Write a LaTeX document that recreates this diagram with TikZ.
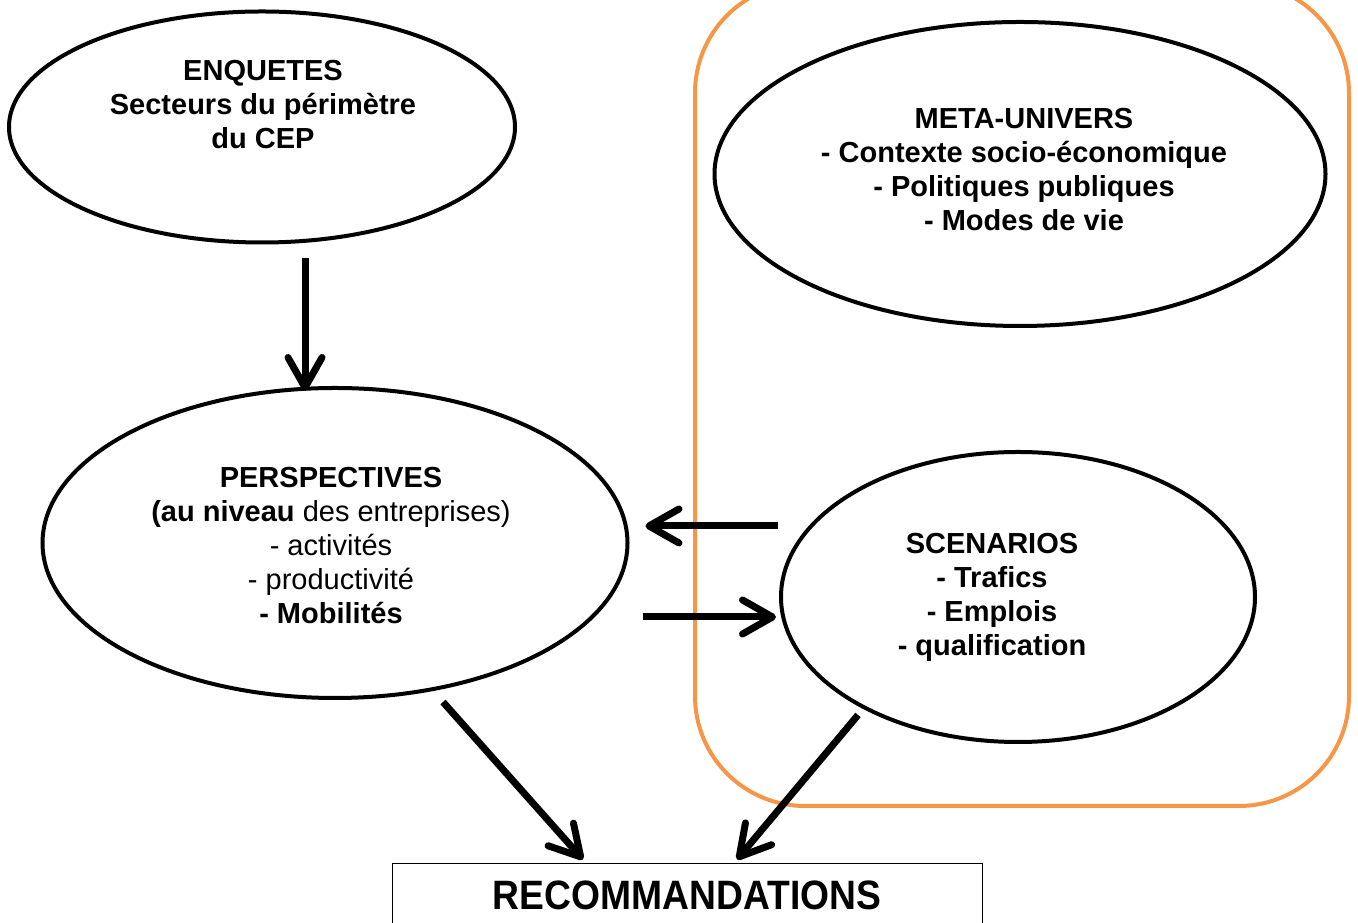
\documentclass[tikz,border=0pt]{standalone}
\usepackage{fontspec}
\setmainfont{Liberation Sans}
\usetikzlibrary{arrows.meta,calc,shapes.geometric}
\definecolor{accentorange}{RGB}{247,150,70}
\begin{document}
\begin{tikzpicture}[x=1pt,y=1pt,
  oval/.style={draw=black, line width=4pt, ellipse, inner sep=0pt},
  txt/.style={align=center, inner sep=0pt, font=\fontsize{29}{34}\selectfont},
  arr/.style={line width=7pt, -{Straight Barb[length=30pt,width=34pt,round]}},
  frame/.style={draw=accentorange, line width=4pt, rounded corners=110pt}
]
\useasboundingbox (0,0) rectangle (1358,923);
% orange frame
\draw[frame] (695,117) rectangle (1349,940);
% ellipses
\node[oval, minimum width=506pt, minimum height=231pt] (enq) at (262,796) {};
\node[oval, minimum width=611pt, minimum height=304pt] (meta) at (1020,749) {};
\node[oval, minimum width=585pt, minimum height=310pt] (persp) at (335,380) {};
\node[oval, minimum width=474pt, minimum height=290pt] (scen) at (1018,326) {};
\node[draw=black, line width=1pt, minimum width=590pt, minimum height=80pt, inner sep=0pt] (reco) at (687,19) {};
% texts
\node[txt] (enqtxt) at (263,818) {\textbf{ENQUETES}\\\textbf{Secteurs du périmètre}\\\textbf{du CEP}};
\node[txt] (metatxt) at (1024,753) {\textbf{META-UNIVERS}\\\textbf{- Contexte socio-économique}\\\textbf{- Politiques publiques}\\\textbf{- Modes de vie}};
\node[txt] (persptxt) at (331,377) {\textbf{PERSPECTIVES}\\\textbf{(au niveau} des entreprises)\\- activités\\- productivité\\\textbf{- Mobilités}};
\node[txt] (scentxt) at (992,326) {\textbf{SCENARIOS}\\\textbf{- Trafics}\\\textbf{- Emplois}\\\textbf{- qualification}};
\node[inner sep=0pt, font=\fontsize{38}{44}\selectfont\bfseries, xscale=0.98, yscale=1.08] (recotxt) at (687,28) {RECOMMANDATIONS};
% arrows
\draw[arr] ($(enq.south)+(43,-14)$) -- ($(persp.north)+(-30,-5)$);
\draw[arr] ($(scen.west)+(-1,71)$) -- ($(persp.east)+(16,17)$);
\draw[arr] ($(persp.east)+(13,-74)$) -- ($(scen.west)+(-3,-20)$);
\draw[arr] ($(persp.south)+(108,-2)$) -- ($(reco.north)+(-104,4)$);
\draw[arr] ($(scen.south)+(-160,29)$) -- ($(reco.north)+(50,4)$);
\end{tikzpicture}
\end{document}
